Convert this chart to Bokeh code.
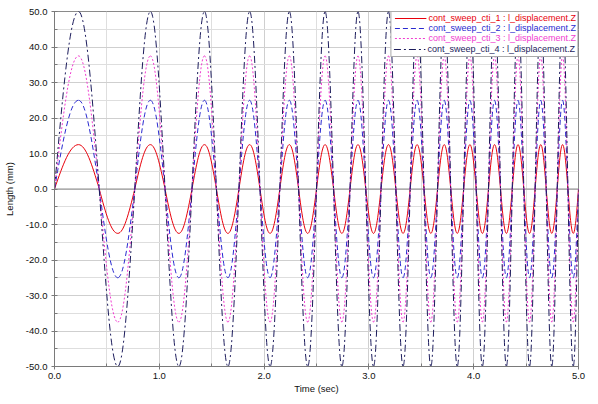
import numpy as np
from bokeh.plotting import figure
from bokeh.models import (FixedTicker, PrintfTickFormatter, Legend, LegendItem,
                          Span, ColumnDataSource, Range1d)
from bokeh.embed import file_html
from bokeh.resources import INLINE

# ---------------- data ----------------
# times (s) of the successive zero crossings and crests/troughs of the sweep
knot_times = [0.000, 0.229, 0.427, 0.604, 0.766, 0.915, 1.055, 1.187, 1.312, 1.431,
              1.545, 1.655, 1.760, 1.862, 1.961, 2.057, 2.150, 2.241, 2.329, 2.416,
              2.500, 2.582, 2.663, 2.742, 2.820, 2.896, 2.970, 3.044, 3.116, 3.187,
              3.257, 3.326, 3.394, 3.460, 3.526, 3.591, 3.655, 3.719, 3.781, 3.843,
              3.904, 3.964, 4.024, 4.083, 4.141, 4.199, 4.256, 4.312, 4.368, 4.423,
              4.478, 4.533, 4.586, 4.640, 4.692, 4.745, 4.797, 4.848, 4.899, 4.950,
              5.000]
# level at each knot: 0 crossing, +1 crest, -1 trough
knot_levels = [0, 1, 0, -1, 0, 1, 0, -1, 0, 1, 0, -1, 0, 1, 0, -1,
               0, 1, 0, -1, 0, 1, 0, -1, 0, 1, 0, -1, 0, 1, 0, -1,
               0, 1, 0, -1, 0, 1, 0, -1, 0, 1, 0, -1, 0, 1, 0, -1,
               0, 1, 0, -1, 0, 1, 0, -1, 0, 1, 0, -1, 0]
series_names = ["cont_sweep_cti_1 : l_displacement.Z",
                "cont_sweep_cti_2 : l_displacement.Z",
                "cont_sweep_cti_3 : l_displacement.Z",
                "cont_sweep_cti_4 : l_displacement.Z"]
series_peaks = [12.5, 25.0, 37.5, 50.0]   # mm

x_ticks = [0.0, 1.0, 2.0, 3.0, 4.0, 5.0]
x_minor = [0.5, 1.5, 2.5, 3.5, 4.5]
y_ticks = [-50.0, -40.0, -30.0, -20.0, -10.0, 0.0, 10.0, 20.0, 30.0, 40.0, 50.0]
y_minor = [-45.0, -35.0, -25.0, -15.0, -5.0, 5.0, 15.0, 25.0, 35.0, 45.0]

# ---------------- styles ----------------
colors = ["#e8000b", "#2a2ad0", "#f03cd0", "#1c1c5c"]
dashes = ["solid", "5 3", "2 2", "7 3 2 3"]
FONT = "Liberation Sans"

# shape factor of a quarter-sine cubic Bezier segment
C = 0.3516


def quarter_wave_source(peak):
    d = {k: [] for k in ("x0", "y0", "x1", "y1", "cx0", "cy0", "cx1", "cy1")}
    for i in range(len(knot_times) - 1):
        ta, tb = knot_times[i], knot_times[i + 1]
        va, vb = peak * knot_levels[i], peak * knot_levels[i + 1]
        dt = tb - ta
        if knot_levels[i] == 0:
            c0 = (ta + C * dt, vb * C * np.pi / 2)
            c1 = (tb - C * dt, vb)
        else:
            c0 = (ta + C * dt, va)
            c1 = (tb - C * dt, va * C * np.pi / 2)
        d["x0"].append(ta); d["y0"].append(va)
        d["x1"].append(tb); d["y1"].append(vb)
        d["cx0"].append(c0[0]); d["cy0"].append(c0[1])
        d["cx1"].append(c1[0]); d["cy1"].append(c1[1])
    return ColumnDataSource(d)


p = figure(width=590, height=396, output_backend="svg", toolbar_location=None,
           x_range=Range1d(0, 5), y_range=Range1d(-50, 50),
           min_border_left=53, min_border_right=12, min_border_top=11,
           min_border_bottom=27)
p.background_fill_color = "white"
p.border_fill_color = "white"
p.outline_line_color = "#8a8a8a"
p.outline_line_width = 1

# axes
for ax in (p.xaxis[0], p.yaxis[0]):
    ax.axis_line_color = "#7a7a7a"
    ax.major_tick_line_color = "#7a7a7a"
    ax.minor_tick_line_color = "#7a7a7a"
    ax.major_tick_in = 3
    ax.major_tick_out = 3
    ax.minor_tick_in = 3
    ax.minor_tick_out = 0
    ax.major_label_text_font = FONT
    ax.major_label_text_font_size = "9.5px"
    ax.major_label_text_color = "#111111"
    ax.axis_label_text_font = FONT
    ax.axis_label_text_font_size = "9.5px"
    ax.axis_label_text_font_style = "normal"
    ax.axis_label_text_color = "#111111"
    ax.formatter = PrintfTickFormatter(format="%.1f")

p.xaxis.ticker = FixedTicker(ticks=x_ticks, minor_ticks=x_minor)
p.yaxis.ticker = FixedTicker(ticks=y_ticks, minor_ticks=y_minor)
p.xaxis.axis_label = "Time (sec)"
p.yaxis.axis_label = "Length (mm)"
p.xaxis.major_label_standoff = 3
p.xaxis.axis_label_standoff = 1
p.yaxis.major_label_standoff = 4
p.yaxis.axis_label_standoff = 8

# grid
for g in (p.xgrid[0], p.ygrid[0]):
    g.grid_line_color = "#cfcfcf"
    g.grid_line_width = 1
    g.minor_grid_line_color = "#dedede"
    g.minor_grid_line_width = 1

p.add_layout(Span(location=0, dimension="width", line_color="#8c8c8c",
                  line_width=1, level="underlay"))

renderers = []
for peak, col, dash in zip(series_peaks, colors, dashes):
    r = p.bezier(x0="x0", y0="y0", x1="x1", y1="y1", cx0="cx0", cy0="cy0",
                 cx1="cx1", cy1="cy1", source=quarter_wave_source(peak),
                 line_color=col, line_width=1, line_dash=dash)
    renderers.append(r)

dummy = p.line(x=[], y=[], line_alpha=0)

common = dict(location="top_right", margin=0, padding=2, spacing=0,
              label_height=10, glyph_height=10, glyph_width=32,
              label_standoff=2, label_text_font=FONT,
              label_text_font_size="9px")

# legend with box; then overlays so each label takes its series colour
order = [3, 0, 1, 2]
for k in order:
    items = [LegendItem(label=" ", renderers=[dummy]) for _ in range(k)]
    items.append(LegendItem(label=series_names[k], renderers=[renderers[k]]))
    leg = Legend(items=items, label_text_color=colors[k], **common)
    if k == 3:
        leg.background_fill_color = "white"
        leg.background_fill_alpha = 1.0
        leg.border_line_color = "#555555"
        leg.border_line_width = 1
    else:
        leg.background_fill_alpha = 0.0
        leg.border_line_alpha = 0.0
    p.add_layout(leg)

open("out.html", "w").write(file_html(p, INLINE))
